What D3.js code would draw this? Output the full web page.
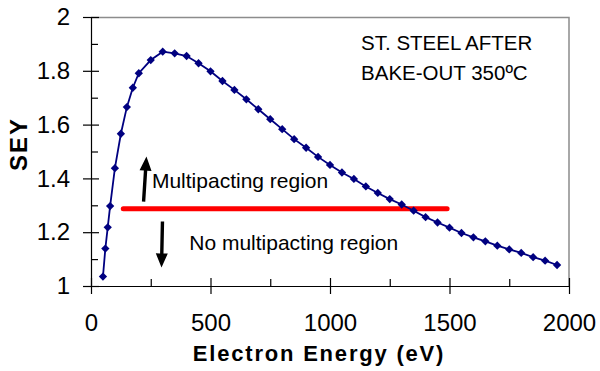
<!DOCTYPE html>
<html lang="en">
<head>
  <meta charset="UTF-8">
  <title>SEY of stainless steel after bake-out</title>
  <style>
    body { margin: 0; background: #fff; }
    svg { display: block; font-family: Arial, "Liberation Sans", sans-serif; }
    .tick-label { font-size: 24px; fill: #000; }
    .axis-title { font-size: 22px; font-weight: bold; fill: #000; }
    .note { font-size: 21px; fill: #000; }
    .label-line { font-size: 20.5px; }
  </style>
</head>
<body>
  <div id="chart"></div>

  <script src="https://d3js.org/d3.v7.min.js"></script>
  <script>
    // SEY curve
    const energy = [50, 60, 70, 80, 100, 125, 150, 175, 200,
      250, 300, 350, 400, 450, 500, 550, 600, 650, 700, 750, 800, 850, 900, 950,
      1000, 1050, 1100, 1150, 1200, 1250, 1300, 1350, 1400, 1450, 1500,
      1550, 1600, 1650, 1700, 1750, 1800, 1850, 1900, 1950];
    const sey = [1.035, 1.139, 1.218, 1.297, 1.438, 1.566, 1.665, 1.737, 1.791,
      1.840, 1.871, 1.865, 1.855, 1.828, 1.798, 1.762, 1.729, 1.694, 1.657, 1.620, 1.583, 1.546, 1.514, 1.480,
      1.450, 1.422, 1.398, 1.370, 1.346, 1.323, 1.303, 1.280, 1.256, 1.236, 1.217,
      1.197, 1.181, 1.166, 1.150, 1.136, 1.123, 1.107, 1.094, 1.078];

    // multipacting threshold
    const thresholdEnergy = [135, 1490];
    const thresholdSey = 1.287;

    const xTicks = [0, 500, 1000, 1500, 2000];
    const xMinorTicks = [250, 750, 1250, 1750];
    const yTicks = [1, 1.2, 1.4, 1.6, 1.8, 2];
    const yMinorTicks = [1.1, 1.3, 1.5, 1.7, 1.9];

    const labelLines = ['ST. STEEL AFTER', 'BAKE-OUT 350\u00baC'];

    const width = 600;
    const height = 371;
    const margin = { top: 17, right: 31, bottom: 85, left: 91 };
    const w = width - margin.left - margin.right;
    const h = height - margin.top - margin.bottom;

    const svg = d3.select('#chart')
      .append('svg')
      .attr('width', width)
      .attr('height', height);

    const g = svg.append('g')
      .attr('transform', `translate(${margin.left}, ${margin.top})`);

    const x = d3.scaleLinear().domain([0, 2000]).range([0, w]);
    const y = d3.scaleLinear().domain([1, 2]).range([h, 0]);

    // top and right frame
    g.append('path')
      .attr('d', `M0,0.5H${w}V${h}`)
      .attr('fill', 'none')
      .attr('stroke', '#8c8c8c')
      .attr('stroke-width', 1.5);

    // major ticks cross the axis line, minor ticks sit inside
    const xAxis = g.append('g')
      .attr('transform', `translate(0, ${h})`)
      .call(d3.axisBottom(x).tickValues(xTicks).tickSize(8).tickSizeOuter(0).tickPadding(20)
        .tickFormat(d3.format('d')));
    xAxis.selectAll('.tick line').attr('y1', -8);
    g.append('g')
      .attr('transform', `translate(0, ${h})`)
      .call(d3.axisTop(x).tickValues(xMinorTicks).tickSize(7).tickFormat(''))
      .call(a => a.select('.domain').remove());

    const yAxis = g.append('g')
      .call(d3.axisLeft(y).tickValues(yTicks).tickSize(8).tickSizeOuter(0).tickPadding(13)
        .tickFormat(d => d3.format('')(+d.toFixed(1))));
    yAxis.selectAll('.tick line').attr('x1', 8);
    g.append('g')
      .call(d3.axisRight(y).tickValues(yMinorTicks).tickSize(7).tickFormat(''))
      .call(a => a.select('.domain').remove());

    svg.selectAll('.domain, .tick line').attr('stroke', '#000').attr('stroke-width', 1.2);
    [xAxis, yAxis].forEach(a => {
      a.attr('font-size', null).attr('font-family', null);
      a.selectAll('text').attr('class', 'tick-label');
    });

    // threshold line
    g.append('line')
      .attr('x1', x(thresholdEnergy[0]))
      .attr('x2', x(thresholdEnergy[1]))
      .attr('y1', y(thresholdSey))
      .attr('y2', y(thresholdSey))
      .attr('stroke', '#ff0000')
      .attr('stroke-width', 5)
      .attr('stroke-linecap', 'round');

    // SEY curve
    const points = energy.map((e, i) => [e, sey[i]]);
    g.append('path')
      .datum(points)
      .attr('fill', 'none')
      .attr('stroke', '#000080')
      .attr('stroke-width', 1.8)
      .attr('d', d3.line().x(d => x(d[0])).y(d => y(d[1])));

    g.selectAll('.marker')
      .data(points)
      .enter()
      .append('path')
      .attr('class', 'marker')
      .attr('transform', d => `translate(${x(d[0])}, ${y(d[1])})`)
      .attr('d', d3.symbol(d3.symbolDiamond2, 44))
      .attr('fill', '#000080');

    // arrows
    function arrow(e0, s0, e1, s1) {
      const x0 = x(e0), y0 = y(s0), x1 = x(e1), y1 = y(s1);
      const len = Math.hypot(x1 - x0, y1 - y0);
      const ux = (x1 - x0) / len, uy = (y1 - y0) / len;
      const px = -uy, py = ux;
      const headLen = 14, headW = 6, shaft = 1.7;
      const bx = x1 - ux * headLen, by = y1 - uy * headLen;
      const pts = [
        [x0 + px * shaft, y0 + py * shaft],
        [bx + px * shaft, by + py * shaft],
        [bx + px * headW, by + py * headW],
        [x1, y1],
        [bx - px * headW, by - py * headW],
        [bx - px * shaft, by - py * shaft],
        [x0 - px * shaft, y0 - py * shaft]
      ];
      g.append('path')
        .attr('d', 'M' + pts.map(p => p.join(',')).join('L') + 'Z')
        .attr('fill', '#000');
    }
    arrow(220, 1.314, 232, 1.481);
    arrow(299, 1.240, 295, 1.069);

    // annotations
    g.append('text').attr('class', 'note')
      .attr('x', x(255)).attr('y', y(1.363))
      .text('Multipacting region');
    g.append('text').attr('class', 'note')
      .attr('x', x(411)).attr('y', y(1.135))
      .text('No multipacting region');

    g.selectAll('.label-line')
      .data(labelLines)
      .enter()
      .append('text')
      .attr('class', 'note label-line')
      .attr('x', x(1130))
      .attr('y', (d, i) => y(1.877 - i * 0.112))
      .text(d => d);

    // axis titles
    svg.append('text')
      .attr('class', 'axis-title')
      .attr('x', 319)
      .attr('y', 361)
      .attr('text-anchor', 'middle')
      .style('letter-spacing', '1.8px')
      .text('Electron Energy (eV)');

    svg.append('text')
      .attr('class', 'axis-title')
      .attr('transform', 'rotate(-90)')
      .attr('x', -144)
      .attr('y', 27)
      .attr('text-anchor', 'middle')
      .style('font-size', '24px')
      .style('letter-spacing', '2px')
      .text('SEY');
  </script>
</body>
</html>
